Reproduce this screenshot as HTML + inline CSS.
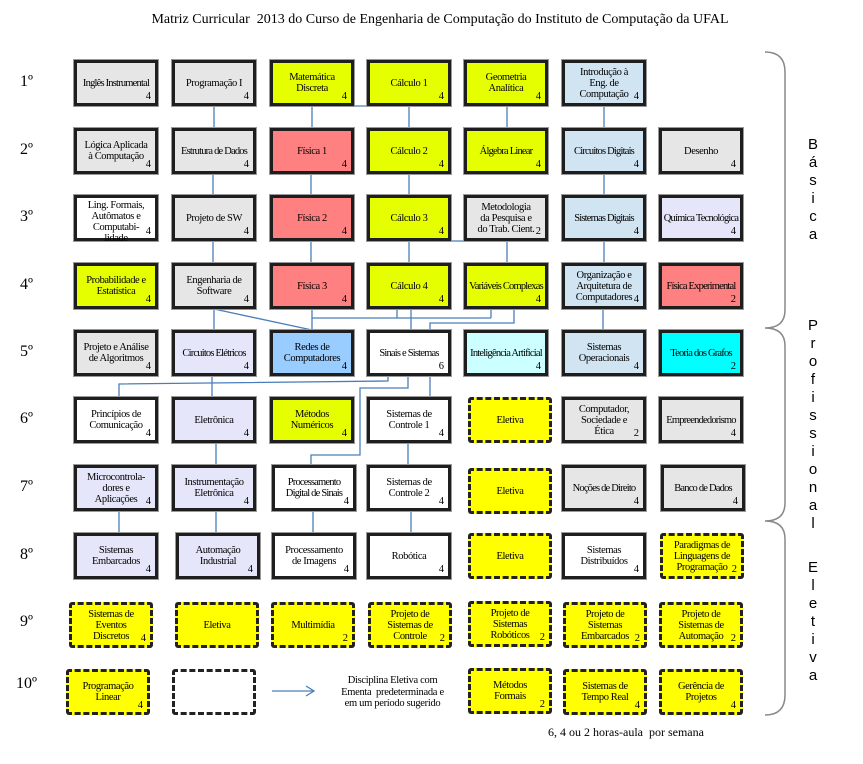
<!DOCTYPE html>
<html><head><meta charset="utf-8"><style>
body{margin:0;background:#fff;}
#w{position:relative;width:863px;height:764px;overflow:hidden;font-family:"Liberation Serif",serif;color:#000;}
.b{position:absolute;width:84px;height:46px;box-sizing:border-box;border:3px solid #1e1e1e;display:flex;align-items:center;justify-content:center;text-align:center;font-size:10.5px;line-height:11px;letter-spacing:-0.4px;padding:0;box-shadow:0 0 0 1px #999;}
.n{white-space:nowrap;letter-spacing:-0.8px;}
.d{border:3px dashed #222;border-radius:3px;box-shadow:none;}
.b i{position:absolute;right:4px;bottom:1px;font-style:normal;font-size:10.5px;letter-spacing:0;}
.g{background:#e6e6e6}.y{background:#e6ff00}.r{background:#ff8080}.l{background:#d0e4f2}.v{background:#e6e6fa}.u{background:#99ccff}.c{background:#ccffff}.t{background:#00ffff}.e{background:#ffff00}.w{background:#fff}
.rl{position:absolute;font-size:16px;}
.s{position:absolute;left:806px;font-family:"Liberation Sans",sans-serif;font-size:15px;width:14px;text-align:center;line-height:18px;}
</style></head><body><div id="w">
<div style="position:absolute;left:0;width:880px;top:12px;text-align:center;font-size:14px;">Matriz Curricular&nbsp; 2013 do Curso de Engenharia de Computação do Instituto de Computação da UFAL</div>

<svg width="863" height="764" style="position:absolute;left:0;top:0" fill="none">
<g stroke="#4a7ebb" stroke-width="1.3">
<path d="M214 106V128M213 174V195M213 241V263M312 106V128M312 106H390M409 106V128M409 174V195M409 241V263M311 174V195M311 241V263M432 241H507M507 241V263M507 106V128M604 106V128M604 174V195M604 241V263M603 309V330"/>
<path d="M214 309V330M214 309L312 330M312 309V330M312 318H491M397 309V318M411 309V330M491 309V318M514 309V323H430V330"/>
<path d="M212 376V397M388 376V381L119 384V397M408 376V388H360V455H311V465M430 376V397"/>
<path d="M216 443V465M408 443V465M119 511V533M216 511V533M313 511V533M411 511V533"/>
<path d="M272 691H314M306 686L314 691L306 696"/>
</g>
<path d="M765 52Q785 52 785 72V310Q785 328 765 328Q785 328 785 346V503Q785 521 765 521Q785 521 785 539V695Q785 715 765 715" stroke="#888" stroke-width="1.5"/>
</svg>

<div class="rl" style="left:20px;top:73px">1º</div>
<div class="rl" style="left:20px;top:141px">2º</div>
<div class="rl" style="left:20px;top:208px">3º</div>
<div class="rl" style="left:20px;top:276px">4º</div>
<div class="rl" style="left:20px;top:343px">5º</div>
<div class="rl" style="left:20px;top:410px">6º</div>
<div class="rl" style="left:20px;top:478px">7º</div>
<div class="rl" style="left:20px;top:546px">8º</div>
<div class="rl" style="left:20px;top:613px">9º</div>
<div class="rl" style="left:16px;top:675px">10º</div>

<div class="b g n" style="left:74px;top:60px">Inglês Instrumental<i>4</i></div>
<div class="b g" style="left:172px;top:60px">Programação I<i>4</i></div>
<div class="b y" style="left:270px;top:60px">Matemática<br>Discreta<i>4</i></div>
<div class="b y" style="left:367px;top:60px">Cálculo 1<i>4</i></div>
<div class="b y" style="left:464px;top:60px">Geometria<br>Analítica<i>4</i></div>
<div class="b l" style="left:562px;top:60px">Introdução à<br>Eng. de<br>Computação<i>4</i></div>

<div class="b g" style="left:74px;top:128px">Lógica Aplicada<br>à Computação<i>4</i></div>
<div class="b g n" style="left:172px;top:128px">Estrutura de Dados<i>4</i></div>
<div class="b r" style="left:270px;top:128px">Física 1<i>4</i></div>
<div class="b y" style="left:367px;top:128px">Cálculo 2<i>4</i></div>
<div class="b y n" style="left:464px;top:128px">Álgebra Linear<i>4</i></div>
<div class="b l n" style="left:562px;top:128px">Circuitos Digitais<i>4</i></div>
<div class="b g" style="left:659px;top:128px">Desenho<i>4</i></div>

<div class="b w" style="left:74px;top:195px;align-items:flex-start;padding-top:2px">Ling. Formais,<br>Autômatos e<br>Computabi-<br>lidade<i>4</i></div>
<div class="b g" style="left:172px;top:195px">Projeto de SW<i>4</i></div>
<div class="b r" style="left:270px;top:195px">Física 2<i>4</i></div>
<div class="b y" style="left:367px;top:195px">Cálculo 3<i>4</i></div>
<div class="b g" style="left:464px;top:195px">Metodologia<br>da Pesquisa e<br>do Trab. Cient.<i>2</i></div>
<div class="b l n" style="left:562px;top:195px">Sistemas Digitais<i>4</i></div>
<div class="b v n" style="left:659px;top:195px">Química Tecnológica<i>4</i></div>

<div class="b y" style="left:74px;top:263px">Probabilidade e<br>Estatística<i>4</i></div>
<div class="b g" style="left:172px;top:263px">Engenharia de<br>Software<i>4</i></div>
<div class="b r" style="left:270px;top:263px">Física 3<i>4</i></div>
<div class="b y" style="left:367px;top:263px">Cálculo 4<i>4</i></div>
<div class="b y n" style="left:464px;top:263px">Variáveis Complexas<i>4</i></div>
<div class="b l" style="left:562px;top:263px">Organização e<br>Arquitetura de<br>Computadores<i>4</i></div>
<div class="b r n" style="left:659px;top:263px">Física Experimental<i>2</i></div>

<div class="b g" style="left:74px;top:330px">Projeto e Análise<br>de Algoritmos<i>4</i></div>
<div class="b v n" style="left:172px;top:330px">Circuitos Elétricos<i>4</i></div>
<div class="b u" style="left:270px;top:330px">Redes de<br>Computadores<i>4</i></div>
<div class="b w n" style="left:367px;top:330px">Sinais e Sistemas<i>6</i></div>
<div class="b c n" style="left:464px;top:330px">Inteligência Artificial<i>4</i></div>
<div class="b l" style="left:562px;top:330px">Sistemas<br>Operacionais<i>4</i></div>
<div class="b t n" style="left:659px;top:330px">Teoria dos Grafos<i>2</i></div>

<div class="b w" style="left:74px;top:397px">Princípios de<br>Comunicação<i>4</i></div>
<div class="b v" style="left:172px;top:397px">Eletrônica<i>4</i></div>
<div class="b y" style="left:270px;top:397px">Métodos<br>Numéricos<i>4</i></div>
<div class="b w" style="left:367px;top:397px">Sistemas de<br>Controle 1<i>4</i></div>
<div class="b e d" style="left:468px;top:397px">Eletiva</div>
<div class="b g" style="left:562px;top:397px">Computador,<br>Sociedade e<br>Ética<i>2</i></div>
<div class="b g n" style="left:659px;top:397px">Empreendedorismo<i>4</i></div>

<div class="b v" style="left:74px;top:465px">Microcontrola-<br>dores e<br>Aplicações<i>4</i></div>
<div class="b v" style="left:172px;top:465px">Instrumentação<br>Eletrônica<i>4</i></div>
<div class="b w n" style="left:272px;top:465px">Processamento<br>Digital de Sinais<i>4</i></div>
<div class="b w" style="left:367px;top:465px">Sistemas de<br>Controle 2<i>4</i></div>
<div class="b e d" style="left:468px;top:468px">Eletiva</div>
<div class="b g n" style="left:562px;top:465px">Noções de Direito<i>4</i></div>
<div class="b g n" style="left:661px;top:465px">Banco de Dados<i>4</i></div>

<div class="b v" style="left:74px;top:533px">Sistemas<br>Embarcados<i>4</i></div>
<div class="b v" style="left:176px;top:533px">Automação<br>Industrial<i>4</i></div>
<div class="b w" style="left:272px;top:533px">Processamento<br>de Imagens<i>4</i></div>
<div class="b w" style="left:367px;top:533px">Robótica<i>4</i></div>
<div class="b e d" style="left:468px;top:533px">Eletiva</div>
<div class="b w" style="left:562px;top:533px">Sistemas<br>Distribuídos<i>4</i></div>
<div class="b e d" style="left:660px;top:533px">Paradigmas de<br>Linguagens de<br>Programação<i>2</i></div>

<div class="b e d" style="left:69px;top:602px">Sistemas de<br>Eventos<br>Discretos<i>4</i></div>
<div class="b e d" style="left:175px;top:602px">Eletiva</div>
<div class="b e d" style="left:271px;top:602px">Multimídia<i>2</i></div>
<div class="b e d" style="left:368px;top:602px">Projeto de<br>Sistemas de<br>Controle<i>2</i></div>
<div class="b e d" style="left:468px;top:601px">Projeto de<br>Sistemas<br>Robóticos<i>2</i></div>
<div class="b e d" style="left:563px;top:602px">Projeto de<br>Sistemas<br>Embarcados<i>2</i></div>
<div class="b e d" style="left:659px;top:602px">Projeto de<br>Sistemas de<br>Automação<i>2</i></div>

<div class="b e d" style="left:66px;top:669px">Programação<br>Linear<i>4</i></div>
<div class="b w d" style="left:172px;top:669px"></div>
<div style="position:absolute;left:330px;top:675px;width:125px;text-align:center;font-size:10.5px;line-height:11.5px;letter-spacing:-0.3px">Disciplina Eletiva com<br>Ementa&nbsp; predeterminada e<br>em um período sugerido</div>
<div class="b e d" style="left:468px;top:668px">Métodos<br>Formais<i>2</i></div>
<div class="b e d" style="left:563px;top:669px">Sistemas de<br>Tempo Real<i>4</i></div>
<div class="b e d" style="left:659px;top:669px">Gerência de<br>Projetos<i>4</i></div>

<div style="position:absolute;left:548px;top:725px;font-size:12px">6, 4 ou 2 horas-aula&nbsp; por semana</div>

<div class="s" style="top:136px">B<br>á<br>s<br>i<br>c<br>a</div>
<div class="s" style="top:317px">P<br>r<br>o<br>f<br>i<br>s<br>s<br>i<br>o<br>n<br>a<br>l</div>
<div class="s" style="top:559px">E<br>l<br>e<br>t<br>i<br>v<br>a</div>
</div></body></html>
